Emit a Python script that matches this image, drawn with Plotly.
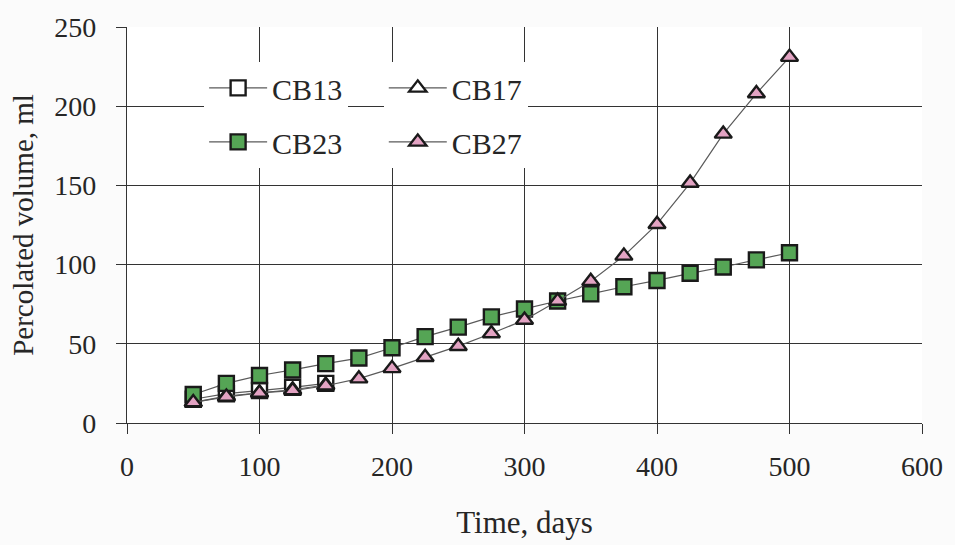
import plotly.graph_objects as go

days = [50, 75, 100, 125, 150, 175, 200, 225, 250, 275, 300, 325, 350, 375, 400, 425, 450, 475, 500]
days_short = [50, 75, 100, 125, 150]

cb13 = [15, 18.5, 20.5, 22.5, 25]
cb17 = [13, 17, 19, 21, 24]
cb23 = [18, 25, 30, 33.5, 37.5, 41, 47.5, 54.5, 60.5, 67, 72, 77, 81.5, 86, 90, 94.5, 98.5, 103, 107.5]
cb27 = [13, 16.5, 19, 20.5, 23.5, 28, 34.5, 41.5, 48.5, 56.5, 65, 77, 89.5, 105.5, 125.5, 151.5, 182.5, 208, 231]

x_ticks = [0, 100, 200, 300, 400, 500, 600]
y_ticks = [0, 50, 100, 150, 200, 250]

FONT = "Liberation Serif, Times New Roman, serif"
LINE = "#5a5a5a"
EDGE = "#1a1a1a"
GREEN = "#55a555"
PINK = "#e3a3c3"

fig = go.Figure()

def add(name, x, y, symbol, fill, legend, group):
    fig.add_trace(go.Scatter(
        x=x, y=y, name=name, mode="lines+markers",
        line=dict(color=LINE, width=1.2),
        marker=dict(symbol=symbol, size=15,
                    color=fill, line=dict(color=EDGE, width=2.4)),
        legend=legend, legendgroup=group,
    ))

add("CB13", days_short, cb13, "square", "white", "legend", "a")
add("CB17", days_short, cb17, "triangle-up", "white", "legend2", "c")
add("CB23", days, cb23, "square", GREEN, "legend", "b")
add("CB27", days, cb27, "triangle-up", PINK, "legend2", "d")

axis_common = dict(
    showgrid=True, gridcolor="#333333", gridwidth=1.3,
    showline=True, linecolor="#333333", linewidth=1.3,
    ticks="outside", ticklen=10, tickcolor="#333333", tickwidth=1.3,
    zeroline=False, mirror=False,
    tickfont=dict(family=FONT, size=28, color="#262626"),
)

fig.update_layout(
    width=955, height=545,
    margin=dict(l=127, r=24, t=20, b=120),
    paper_bgcolor="#fbfbfb", plot_bgcolor="white",
    font=dict(family=FONT, color="#262626"),
    xaxis=dict(range=[0, 600], tickvals=x_ticks, ticklabelstandoff=8,
               title=dict(text="Time, days", font=dict(family=FONT, size=31), standoff=30),
               **axis_common),
    yaxis=dict(range=[0, 250], tickvals=y_ticks, ticklabelstandoff=14,
               title=dict(text="Percolated volume, ml", font=dict(family=FONT, size=29), standoff=12),
               **axis_common),
    legend=dict(x=0.097, y=0.912, xanchor="left", yanchor="top",
                bgcolor="white", borderwidth=0, tracegroupgap=12,
                font=dict(family=FONT, size=30, color="#262626"),
                traceorder="grouped", itemwidth=58),
    legend2=dict(x=0.323, y=0.912, xanchor="left", yanchor="top",
                 bgcolor="white", borderwidth=0, tracegroupgap=12,
                 font=dict(family=FONT, size=30, color="#262626"),
                 traceorder="grouped", itemwidth=58),
)

fig.write_html("out.html")
